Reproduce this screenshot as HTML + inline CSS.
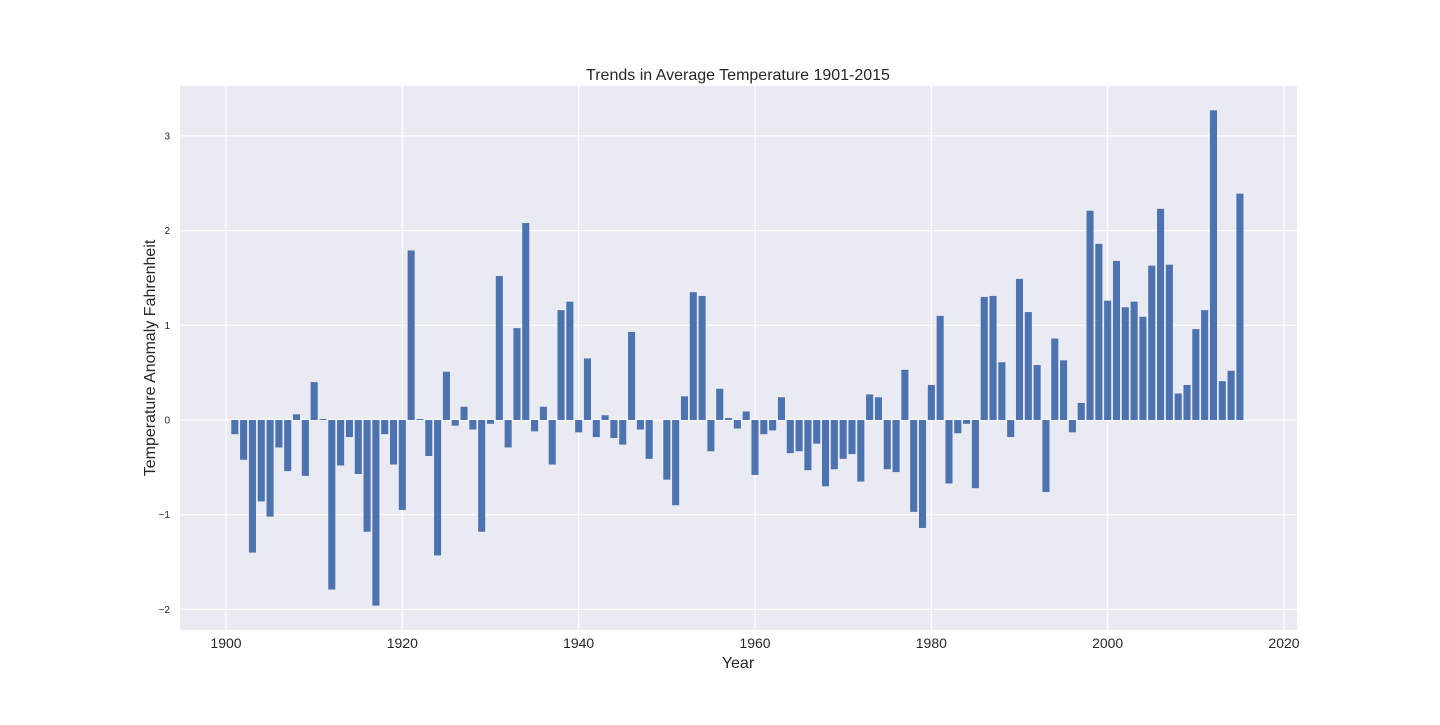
<!DOCTYPE html>
<html><head><meta charset="utf-8"><style>
body{margin:0;background:#fff;font-family:"Liberation Sans","DejaVu Sans",sans-serif}
</style></head><body>
<svg id="chart" width="1440" height="720" xmlns="http://www.w3.org/2000/svg">
<rect width="1440" height="720" fill="#fff"/>
<rect x="180" y="86" width="1117" height="544" fill="#eaeaf2"/>
<g id="grid"></g>
<g id="bars"></g>
<g id="ticks"></g>
<text x="738" y="80" text-anchor="middle" font-size="16" fill="#262626">Trends in Average Temperature 1901-2015</text>
<text x="738" y="668" text-anchor="middle" font-size="16" fill="#262626">Year</text>
<text transform="translate(155,358) rotate(-90)" text-anchor="middle" font-size="16" fill="#262626">Temperature Anomaly Fahrenheit</text>
</svg>
<script>
const startYear = 1901;
const anomalies = [-0.15,-0.42,-1.40,-0.86,-1.02,-0.29,-0.54,0.06,-0.59,0.40,
0.01,-1.79,-0.48,-0.18,-0.57,-1.18,-1.96,-0.15,-0.47,-0.95,
1.79,0.01,-0.38,-1.43,0.51,-0.06,0.14,-0.10,-1.18,-0.04,
1.52,-0.29,0.97,2.08,-0.12,0.14,-0.47,1.16,1.25,-0.13,
0.65,-0.18,0.05,-0.19,-0.26,0.93,-0.10,-0.41,0.0,-0.63,
-0.90,0.25,1.35,1.31,-0.33,0.33,0.02,-0.09,0.09,-0.58,
-0.15,-0.11,0.24,-0.35,-0.33,-0.53,-0.25,-0.70,-0.52,-0.41,
-0.36,-0.65,0.27,0.24,-0.52,-0.55,0.53,-0.97,-1.14,0.37,
1.10,-0.67,-0.14,-0.04,-0.72,1.30,1.31,0.61,-0.18,1.49,
1.14,0.58,-0.76,0.86,0.63,-0.13,0.18,2.21,1.86,1.26,
1.68,1.19,1.25,1.09,1.63,2.23,1.64,0.28,0.37,0.96,
1.16,3.27,0.41,0.52,2.39];
const xTicks = [1900,1920,1940,1960,1980,2000,2020];
const yTicks = [-2,-1,0,1,2,3];
const NS="http://www.w3.org/2000/svg";
const xs = v => 226 + (v-1900)*(1284-226)/120;
const ys = v => 420 - v*94.7;
const grid=document.getElementById('grid'), bars=document.getElementById('bars'), ticks=document.getElementById('ticks');
function mk(tag,attrs,parent){const e=document.createElementNS(NS,tag);for(const k in attrs)e.setAttribute(k,attrs[k]);parent.appendChild(e);return e;}
xTicks.forEach(t=>{
  const l=mk('line',{x1:xs(t),x2:xs(t),y1:86,y2:630,stroke:'#fff','stroke-width':1.2},grid);
  
  
  const tx=mk('text',{x:xs(t),y:648,'text-anchor':'middle','font-size':14,fill:'#262626'},ticks);
  tx.textContent=t;
  
  
});
yTicks.forEach(t=>{
  const l=mk('line',{x1:180,x2:1297,y1:ys(t),y2:ys(t),stroke:'#fff','stroke-width':1.2},grid);
  
  
  const tx=mk('text',{x:170,y:ys(t)+3.5,'text-anchor':'end','font-size':10,fill:'#262626'},ticks);
  tx.textContent=t<0?'\u2212'+(-t):t;
  
  
});
anomalies.forEach((v,i)=>{
  const yr=startYear+i, w=0.8*(1284-226)/120;
  const r=mk('rect',{x:xs(yr)-w/2,y:Math.min(ys(v),ys(0)),width:w,height:Math.abs(ys(v)-ys(0)),fill:'#4c72b0'},bars);
  
  
});
</script>
</body></html>
